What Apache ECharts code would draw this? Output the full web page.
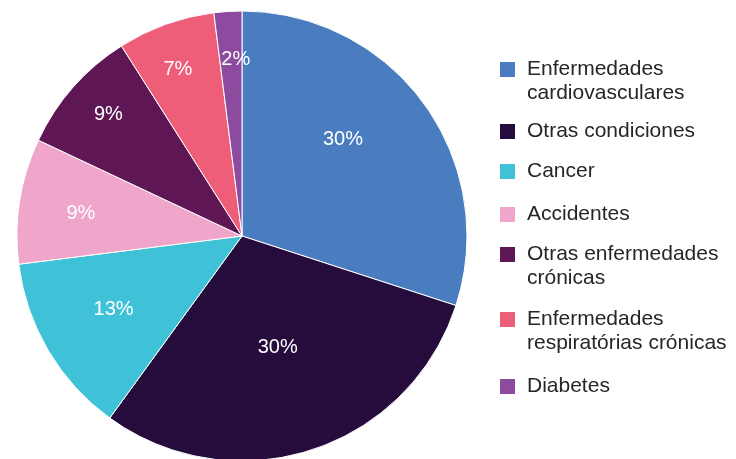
<!DOCTYPE html>
<html>
<head>
<meta charset="utf-8">
<script src="https://cdn.jsdelivr.net/npm/echarts@6/dist/echarts.min.js"></script>
<style>
  html, body { margin: 0; padding: 0; background: #fff; }
  #container { width: 736px; height: 459px; }
</style>
</head>
<body>
<div id="container"></div>
<script>
var categories = [
  "Enfermedades cardiovasculares",
  "Otras condiciones",
  "Cancer",
  "Accidentes",
  "Otras enfermedades crónicas",
  "Enfermedades respiratórias crónicas",
  "Diabetes",
];
var shares = [30, 30, 13, 9, 9, 7, 2];
var legendLabels = [
  "Enfermedades\ncardiovasculares",
  "Otras condiciones",
  "Cancer",
  "Accidentes",
  "Otras enfermedades\ncrónicas",
  "Enfermedades\nrespiratórias crónicas",
  "Diabetes",
];

// styling / layout
var colors = ["#4a7dc0", "#260b3d", "#3fc2d7", "#efa6ca", "#5f1655", "#ef5e79", "#8c4b9e"];
var legendIconTops = [62, 124, 164, 207, 247, 312, 379];
// shift of each slice label from the default "inside" spot (best-fit placement)
var labelNudge = [[7.5, -28.5], [0, 2], [-29, 15], [-47, -4], [-47, -45], [-25, -58], [1, -61]];

var dom = document.getElementById("container");
var myChart = echarts.init(dom, null, { renderer: "canvas" });

var seriesData = categories.map(function (name, i) {
  return { name: name, value: shares[i], itemStyle: { color: colors[i] } };
});

var legends = categories.map(function (name, i) {
  var twoLines = legendLabels[i].indexOf("\n") >= 0;
  // an empty first line keeps the icon level with the first text line
  var text = twoLines ? "\n" + legendLabels[i] : legendLabels[i];
  return {
    orient: "vertical",
    left: 500,
    top: legendIconTops[i] - (twoLines ? 28.5 : 4.5),
    padding: 0,
    itemWidth: 15,
    itemHeight: 15,
    icon: "rect",
    itemStyle: { borderWidth: 0 },
    selectedMode: false,
    data: [name],
    formatter: function () {
      return text;
    },
    textStyle: {
      fontFamily: "Liberation Sans, Arial, sans-serif",
      fontSize: 21,
      lineHeight: 24,
      color: "#262626",
      padding: [0, 0, 0, 7],
    },
  };
});

var option = {
  animation: false,
  legend: legends,
  series: [
    {
      type: "pie",
      center: [242, 236],
      radius: 225,
      startAngle: 90,
      clockwise: true,
      avoidLabelOverlap: false,
      data: seriesData,
      itemStyle: { borderColor: "#ffffff", borderWidth: 1 },
      label: {
        show: true,
        position: "inside",
        formatter: "{c}%",
        color: "#ffffff",
        fontFamily: "Liberation Sans, Arial, sans-serif",
        fontSize: 20,
      },
      labelLine: { show: false },
      labelLayout: function (params) {
        var r = params.labelRect;
        var n = labelNudge[params.dataIndex];
        return {
          x: r.x + r.width / 2 + n[0],
          y: r.y + r.height / 2 + n[1],
          align: "center",
          verticalAlign: "middle",
        };
      },
      emphasis: { disabled: true },
    },
  ],
};

myChart.setOption(option);
window.addEventListener("resize", myChart.resize);
</script>
</body>
</html>
